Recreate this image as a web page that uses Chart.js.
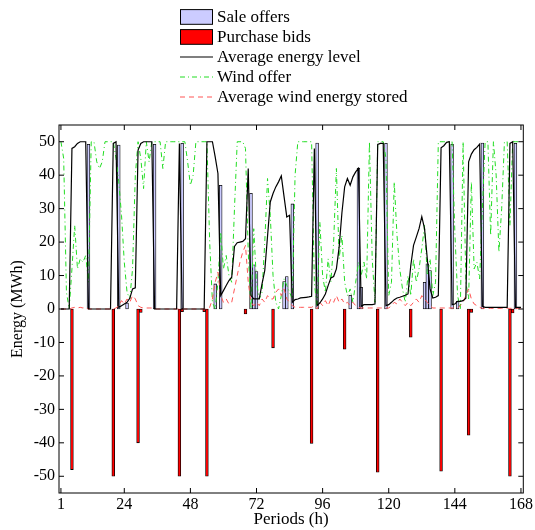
<!DOCTYPE html>
<html lang="en">
<head>
<meta charset="UTF-8">
<title>Sale offers and purchase bids</title>
<script src="https://cdn.jsdelivr.net/npm/chart.js"></script>
<style>
  body { margin: 0; background: #fff; }
  #wrap { position: relative; width: 535px; height: 530px; }
  #legend { position: absolute; left: 180px; top: 0; font-family: "Liberation Serif", "Times New Roman", serif; font-size: 17px; color: #000; }
  .item { position: absolute; left: 0; height: 20px; display: flex; align-items: center; white-space: nowrap; }
  .item span { margin-left: 4px; }
</style>
</head>
<body>
<div id="wrap">
  <canvas id="energyChart" width="535" height="530"></canvas>
  <div id="legend"></div>
</div>
<script>
    // hours of the week
    const periods = [];
    for (let h = 1; h <= 168; h++) periods.push(h);

    // one row = 12 hours (1-12, 13-24, ...)
    const energyLevel = [
        0, 0, 0, 0, 48, 48.5, 49.5, 50, 50, 50, 0, 0,
        0, 0, 0, 0, 0, 0, 0, 49.5, 50, 0.5, 1, 1.5,
        2, 3.2, 6, 6.3, 47.5, 49.5, 50, 50, 50, 50, 0, 0,
        0, 0, 0, 0, 0, 0, 0, 49.5, 0, 0, 0, 0,
        0, 0, 0, 0, 0, 50, 50, 50, 45.5, 40.5, 4, 5.5,
        7, 8.5, 9.5, 18.7, 19.8, 20, 20.2, 21, 42, 4, 3, 3,
        3, 7.5, 11.5, 21.7, 32, 34.5, 36.5, 38, 39.8, 33.6, 27.5, 28,
        2, 2.8, 3, 3.3, 3.4, 3.5, 3.6, 3.8, 48, 1, 1.8, 3,
        4.5, 7, 9.3, 9.7, 12, 18.5, 28.7, 36.5, 39, 37, 39.5, 41,
        42, 0.8, 1.3, 1.3, 1.3, 1.3, 1.5, 49.2, 49.5, 49.5, 1, 1.3,
        2, 2.8, 3.3, 3.5, 3.8, 4.1, 4.5, 13, 19, 21.5, 24, 27.6,
        24, 15, 6, 3.3, 3.5, 4, 48.2, 48.8, 49.8, 50, 1.3, 1.5,
        2.3, 2.3, 2.5, 3.2, 44, 46.3, 47.6, 48.3, 49.3, 0.8, 0.5, 0.5,
        0.5, 0.5, 0.5, 0.5, 0.5, 0.5, 0.5, 49.5, 50, 0.5, 0.5, 0.5
    ];

    const windOffer = [
        50, 45, 5, 0, 12, 25, 12, 15, 14, 16, 8, 50,
        50, 44, 42, 44, 50, 50, 50, 50, 45, 38, 28, 14,
        5, 3, 12, 40, 50, 45, 36, 50, 44, 50, 50, 50,
        50, 42, 50, 50, 50, 50, 50, 50, 50, 50, 44, 37,
        40, 50, 50, 50, 50, 50, 20, 2, 0, 8, 23, 12,
        16, 10, 8, 30, 50, 50, 50, 48, 17, 0, 24, 8,
        3, 5, 20, 39, 28, 10, 2, 0, 4, 9, 7, 5,
        3, 40, 50, 50, 50, 50, 50, 50, 8, 0, 26, 10,
        5, 15, 8, 20, 42, 15, 22, 8, 4, 6, 2, 8,
        14, 10, 14, 9, 50, 15, 2, 50, 50, 50, 45, 4,
        8, 38, 22, 12, 6, 2, 10, 4, 15, 8, 12, 18,
        25, 10, 15, 4, 8, 50, 50, 50, 50, 50, 50, 23,
        4, 0, 50, 8, 3, 38, 12, 14, 9, 30, 50, 50,
        22, 50, 40, 17, 30, 50, 50, 25, 50, 50, 50, 50
    ];

    const windStored = [
        0, 0, 0, 0, 0.3, 0.5, 0.3, 0.5, 0.3, 0.5, 0, 0,
        0, 0, 0, 0, 0, 0, 0, 0, 0.3, 1, 2.5, 1.5,
        3, 2, 4, 3, 1, 0.5, 0.3, 0.3, 0.3, 0.3, 0, 0,
        0, 0, 0, 0, 0, 0, 0, 0, 0, 0, 0, 0,
        0, 0, 0, 0, 0, 0, 0.5, 3, 8, 11, 4, 2,
        3, 1.5, 2, 6, 10, 14, 17, 19, 8, 2, 1, 2,
        1, 3, 2, 4, 3, 3, 5, 6, 4, 6, 3, 2,
        1, 0.5, 0.5, 0.5, 0.5, 0.5, 0.5, 0.5, 1, 0, 2, 1,
        2.5, 1, 3, 2, 4, 2, 3, 1.5, 2, 1, 2, 1,
        0.5, 0.3, 0.3, 0.3, 0.3, 0.3, 0.3, 0.3, 0.3, 0.3, 0.3, 0.3,
        1, 2, 1.5, 3, 2, 1, 2, 1, 2, 3, 2, 4,
        3, 2, 1, 0.3, 0.3, 0.3, 0.3, 0.3, 0.3, 0.3, 0.3, 0.3,
        0.3, 1, 2, 4, 6, 3, 1.5, 1, 0.5, 0.2, 0.2, 0.2,
        0.2, 0.2, 0.2, 0.2, 0.2, 0.2, 0.2, 0.2, 0.2, 0.2, 0.2, 0.2
    ];

    const saleHours = [11, 22, 25, 35, 45, 57, 59, 70, 71, 72, 82, 83, 85, 94, 106, 109, 110, 119, 133, 134, 135, 143, 145, 154, 166];
    const saleMWh = [49.2, 49, 1.8, 49.2, 49.5, 7.5, 37, 34.6, 13.2, 11.2, 8.2, 9.7, 31.4, 49.6, 4.1, 42.1, 6.5, 49.5, 8, 13.5, 11.5, 49.2, 2.3, 49.6, 49.5];

    const purchaseHours = [5, 20, 29, 30, 44, 45, 53, 54, 68, 78, 92, 104, 116, 128, 139, 149, 150, 164, 165];
    const purchaseMWh = [-48, -50, -40, -1, -50, -0.8, -0.8, -50, -1.5, -11.6, -40.2, -12, -48.8, -8.4, -48.5, -37.7, -1, -50, -1.2];

    const xTicks = [1, 24, 48, 72, 96, 120, 144, 168];
    const yTicks = [-50, -40, -30, -20, -10, 0, 10, 20, 30, 40, 50];

    const toPoints = (xs, ys) => xs.map((x, i) => ({x: x, y: ys[i]}));

    Chart.defaults.font.family = '"Liberation Serif", "Times New Roman", serif';
    Chart.defaults.color = '#000';

    // box round the plot with inward ticks on all four sides
    const framePlugin = {
        id: 'frame',
        afterDraw(chart) {
            const ctx = chart.ctx;
            const a = chart.chartArea;
            const x = chart.scales.x, y = chart.scales.y;
            ctx.save();
            ctx.strokeStyle = '#000';
            ctx.lineWidth = 1;
            ctx.strokeRect(a.left, a.top, a.right - a.left, a.bottom - a.top);
            ctx.beginPath();
            xTicks.forEach(v => {
                const px = x.getPixelForValue(v);
                ctx.moveTo(px, a.bottom); ctx.lineTo(px, a.bottom - 5);
                ctx.moveTo(px, a.top); ctx.lineTo(px, a.top + 5);
            });
            yTicks.forEach(v => {
                const py = y.getPixelForValue(v);
                ctx.moveTo(a.left, py); ctx.lineTo(a.left + 5, py);
                ctx.moveTo(a.right, py); ctx.lineTo(a.right - 5, py);
            });
            ctx.stroke();
            ctx.restore();
        }
    };

    const ctx = document.getElementById('energyChart').getContext('2d');
    const chart = new Chart(ctx, {
        type: 'bar',
        data: {
            datasets: [{
                type: 'bar',
                label: 'Sale offers',
                data: toPoints(saleHours, saleMWh),
                backgroundColor: '#ccccff',
                borderColor: '#000',
                borderWidth: 0.8,
                borderSkipped: false,
                barThickness: 2.8,
                grouped: false,
                order: 3
            }, {
                type: 'bar',
                label: 'Purchase bids',
                data: toPoints(purchaseHours, purchaseMWh),
                backgroundColor: '#ff0000',
                borderColor: '#000',
                borderWidth: 0.8,
                borderSkipped: false,
                barThickness: 2.8,
                grouped: false,
                order: 4
            }, {
                type: 'line',
                label: 'Average energy level',
                data: toPoints(periods, energyLevel),
                borderColor: '#000',
                borderWidth: 1.2,
                pointRadius: 0,
                tension: 0,
                fill: false,
                order: 0
            }, {
                type: 'line',
                label: 'Wind offer',
                data: toPoints(periods, windOffer),
                borderColor: '#22dd22',
                borderWidth: 1,
                borderDash: [5, 3, 1, 3],
                pointRadius: 0,
                tension: 0,
                fill: false,
                order: 2
            }, {
                type: 'line',
                label: 'Average wind energy stored',
                data: toPoints(periods, windStored),
                borderColor: '#ff5555',
                borderWidth: 1,
                borderDash: [5, 4],
                pointRadius: 0,
                tension: 0,
                fill: false,
                order: 1
            }]
        },
        options: {
            responsive: false,
            animation: false,
            events: [],
            layout: { padding: { top: 125, right: 9, bottom: 0, left: 0 } },
            plugins: {
                legend: { display: false },
                tooltip: { enabled: false }
            },
            scales: {
                x: {
                    type: 'linear',
                    min: 0.3,
                    max: 168.85,
                    offset: false,
                    grid: { display: false, drawTicks: false },
                    border: { display: false },
                    afterBuildTicks: s => { s.ticks = xTicks.map(v => ({ value: v })); },
                    afterFit: s => { s.height = 37; },
                    ticks: { padding: 2, font: { size: 16 }, maxRotation: 0, autoSkip: false, callback: v => String(v) },
                    title: { display: true, text: 'Periods (h)', font: { size: 17 }, padding: { top: 0, bottom: 0 } }
                },
                y: {
                    min: -55,
                    max: 55,
                    grid: { display: false, drawTicks: false },
                    border: { display: false },
                    afterBuildTicks: s => { s.ticks = yTicks.map(v => ({ value: v })); },
                    afterFit: s => { s.width = 59; },
                    ticks: { padding: 4, font: { size: 16 }, callback: v => String(v) },
                    title: { display: true, text: 'Energy (MWh)', font: { size: 16 }, padding: { top: 8, bottom: 0 } }
                }
            }
        },
        plugins: [framePlugin]
    });

    // legend as page text, built from the datasets
    const legend = document.getElementById('legend');
    chart.data.datasets.forEach((ds, i) => {
        const row = document.createElement('div');
        row.className = 'item';
        row.style.top = (7 + i * 20.1) + 'px';
        let swatch;
        if (ds.type === 'bar') {
            swatch = '<svg width="33" height="20"><rect x="0.5" y="2.6" width="32" height="14.7" fill="' +
                ds.backgroundColor + '" stroke="#000" stroke-width="1"/></svg>';
        } else {
            const dash = ds.borderDash ? ' stroke-dasharray="' + ds.borderDash.join(' ') + '"' : '';
            swatch = '<svg width="33" height="20"><line x1="0" y1="10" x2="33" y2="10" stroke="' +
                ds.borderColor + '" stroke-width="' + ds.borderWidth + '"' + dash + '/></svg>';
        }
        row.innerHTML = swatch + '<span>' + ds.label + '</span>';
        legend.appendChild(row);
    });
</script>
</body>
</html>
